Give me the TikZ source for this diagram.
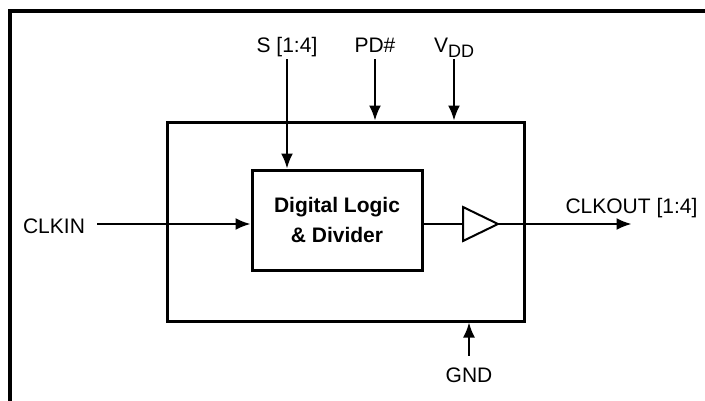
\documentclass[tikz,border=0pt]{standalone}
\usepackage{fontspec}
\setmainfont{Liberation Sans}
\usetikzlibrary{arrows.meta}
\tikzset{
  lbl/.style={font=\fontsize{21}{25}\selectfont, text height=15pt, text depth=4pt, inner sep=3pt},
  sig/.style={->, line width=2pt},
}
\begin{document}
\begin{tikzpicture}[>={Latex[length=15pt,width=12pt]}, x=1pt, y=-1pt]
    \useasboundingbox (0,0) rectangle (705,400);
    \clip (0,0) rectangle (705,400);

    % Khung ngoài
    \draw[line width=3.5pt] (10,420) |- (720,11);

    % Khối chip và khối logic
    \node[draw, line width=3pt, minimum width=357pt, minimum height=199pt] (chip) at (345.5,221.5) {};
    \node[draw, line width=3pt, minimum width=170pt, minimum height=100pt, align=center,
          font=\bfseries\fontsize{21}{30}\selectfont] (logic) at (337,220) {Digital Logic\\\& Divider};

    % Bộ đệm
    \coordinate (in) at ([yshift=-4pt]logic.west);
    \coordinate (bufin) at (463,224);
    \coordinate (bufout) at (498,224);
    \draw[line width=2pt] (463,207) -- (bufout) -- (463,241) -- cycle;

    % Nhãn
    \node[lbl, anchor=base, inner xsep=12pt] (clkin) at (54,233) {CLKIN};
    \node[lbl, anchor=base] (clkout) at (631.5,213) {CLKOUT [1:4]};
    \node[lbl, anchor=base] (sel) at (287,52) {S [1:4]};
    \node[lbl, anchor=base] (pd) at (375,52) {PD\#};
    \node[lbl, anchor=base] (vdd) at (454,52) {V\raisebox{-5pt}{\fontsize{18}{18}\selectfont DD}};
    \node[lbl, anchor=base] (gnd) at (469,382) {GND};

    % Tín hiệu
    \draw[sig] (clkin.east |- in) -- (in);
    \draw[line width=2pt] (logic.east |- in) -- (bufin);
    \draw[sig] (bufout) -- (clkout.south |- bufout);
    \draw[sig] (sel.south) -- (sel.south |- logic.north);
    \draw[sig] (pd.south) -- (pd.south |- chip.north);
    \draw[sig] (vdd.south) -- (vdd.south |- chip.north);
    \draw[sig] ([yshift=8pt]gnd.north) -- (gnd.north |- chip.south);
\end{tikzpicture}
\end{document}
